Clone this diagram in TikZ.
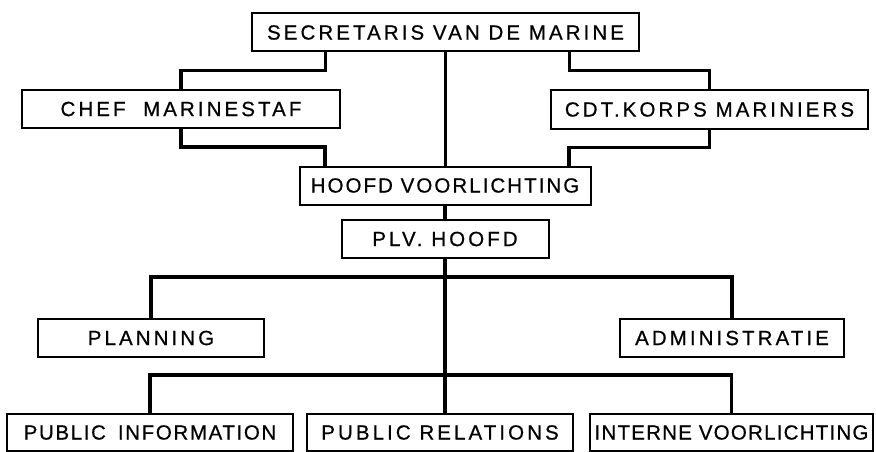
\documentclass[tikz,border=0pt]{standalone}
\usepackage{fontspec}
\setmainfont[LetterSpace=15, FakeBold=0.6]{Liberation Sans}
\usepackage{tikz}
\usetikzlibrary{positioning}
\tikzset{x=1pt, y=-1pt, font=\fontsize{20.5}{20.5}\selectfont}
\tikzstyle{unit} = [draw, line width=2pt, fill=white, rectangle, minimum height=38pt, inner sep=0pt, text centered]
\tikzstyle{link} = [line width=3.5pt]
\newcommand{\tight}[1]{\addfontfeature{LetterSpace=#1}}

\begin{document}
\begin{tikzpicture}
		\useasboundingbox (0,0) rectangle (876,452);
		\node [unit, minimum width=387pt] (secretaris) at (445.5,32.5) {SECRETARIS VAN DE MARINE};
		\node [unit, minimum width=318pt] (chef) at (181,109) {CHEF\ \ MARINESTAF};
		\node [unit, minimum width=317pt] (korps) at (709.5,109.5) {CDT.KORPS MARINIERS};
		\node [unit, minimum width=291pt] (hoofd) at (445,185.5) {\tight{10}HOOFD VOORLICHTING};
		\node [unit, minimum width=207pt] (plv) at (445,239) {PLV. HOOFD};
		\node [unit, minimum width=226pt] (planning) at (151,338) {PLANNING};
		\node [unit, minimum width=224pt] (admin) at (732,338) {ADMINISTRATIE};
		\node [unit, minimum width=286pt, minimum height=37pt] (pinfo) at (150,432.5) {\tight{8}PUBLIC\hspace{12pt}INFORMATION};
		\node [unit, minimum width=266pt, minimum height=37pt] (prel) at (440,432.5) {PUBLIC RELATIONS};
		\node [unit, minimum width=283pt, minimum height=37pt] (intern) at (731.5,432.5) {\tight{6}INTERNE VOORLICHTING};

		\draw [link] (secretaris.south) -- (secretaris.south |- hoofd.north);
		\draw [link] ([xshift=-120pt]secretaris.south) -- ++(0,18) -| (chef.north);
		\draw [link] ([xshift=124pt]secretaris.south) -- ++(0,18) -| (korps.north);
		\draw [link] (chef.south) -- ++(0,18) -| ([xshift=-120pt]hoofd.north);
		\draw [link] (korps.south) -- ++(0,18) -| ([xshift=124pt]hoofd.north);
		\draw [link] (hoofd.south) -- (plv.north);
		\draw [link] (plv.south) -- (plv.south |- prel.north);
		\draw [link] (planning.north) -- ++(0,-41) -| (admin.north);
		\draw [link] (pinfo.north) -- ++(0,-38) -| (intern.north);
	\end{tikzpicture}
\end{document}
